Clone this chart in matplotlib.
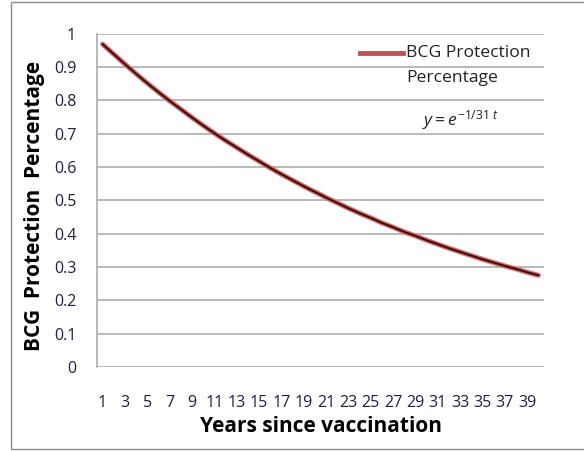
import matplotlib
matplotlib.use("Agg")
import matplotlib.pyplot as plt
from matplotlib.lines import Line2D
from matplotlib.patches import Rectangle

plt.rcParams['font.family'] = ['Open Sans', 'DejaVu Sans']
plt.rcParams['mathtext.fontset'] = 'custom'
plt.rcParams['mathtext.rm'] = 'Open Sans'
plt.rcParams['mathtext.it'] = 'Open Sans:italic'

# Data
years = list(range(1, 41))
protection = [0.968, 0.938, 0.908, 0.879, 0.851, 0.824, 0.798, 0.773, 0.748, 0.724,
              0.701, 0.679, 0.658, 0.637, 0.617, 0.597, 0.578, 0.560, 0.542, 0.525,
              0.508, 0.492, 0.476, 0.461, 0.447, 0.432, 0.419, 0.405, 0.393, 0.380,
              0.368, 0.356, 0.345, 0.334, 0.323, 0.313, 0.303, 0.294, 0.284, 0.275]
xtick_labels = [str(y) for y in years[::2]]
yticks = [0, 0.1, 0.2, 0.3, 0.4, 0.5, 0.6, 0.7, 0.8, 0.9, 1]
ytick_labels = ['0', '0.1', '0.2', '0.3', '0.4', '0.5', '0.6', '0.7', '0.8', '0.9', '1']

W, H = 584, 451
fig = plt.figure(figsize=(W / 100, H / 100), dpi=100)
fig.patch.set_facecolor('white')

# outer chart frame
fig.patches.append(Rectangle((10.5 / W, 1 - 449 / H), (W + 5) / W, (447 / H),
                             transform=fig.transFigure, fill=False,
                             edgecolor='#8c8c8c', linewidth=1.0))

ax = fig.add_axes([97 / W, 1 - 367 / H, 447 / W, 333.5 / H])
ax.set_xlim(0.5, 40.5)
ax.set_ylim(0, 1)

for v in yticks:
    ax.axhline(v, color='#a6a6a6', linewidth=1.1, zorder=1)

ax.plot(years, protection, color='#d46a67', linewidth=3.6, solid_capstyle='round', zorder=3)
ax.plot(years, protection, color='#3a0f0f', linewidth=1.5, solid_capstyle='round', zorder=4)

for s in ['top', 'right', 'bottom']:
    ax.spines[s].set_visible(False)
ax.spines['left'].set_color('#a6a6a6')
ax.spines['left'].set_linewidth(1.1)

ax.set_xticks(years[::2])
ax.set_xticklabels(xtick_labels, fontsize=11.5, color='#1f1f3a')
ax.set_yticks(yticks)
ax.set_yticklabels(ytick_labels, fontsize=11.5, color='#1f1f3a')
ax.tick_params(axis='x', length=0, pad=20)
ax.tick_params(axis='y', length=0, pad=15)

fig.text(35 / W, 1 - 206 / H, 'BCG  Protection  Percentage', rotation=90,
         ha='center', va='center', fontsize=15, fontweight='bold', color='black')
fig.text(321 / W, 1 - 427 / H, 'Years since vaccination',
         ha='center', va='center', fontsize=15, fontweight='bold', color='black')

# legend
ax.add_line(Line2D([0.588, 0.685], [0.942, 0.942], transform=ax.transAxes,
                   color='#c0504d', linewidth=3.5, zorder=5))
ax.text(0.691, 0.941, 'BCG Protection', transform=ax.transAxes, ha='left', va='center',
        fontsize=12.6, color='#222222')
ax.text(0.691, 0.867, 'Percentage', transform=ax.transAxes, ha='left', va='center',
        fontsize=12.6, color='#222222')
ax.text(0.727, 0.741, r'$y = e^{-1/31\ t}$', transform=ax.transAxes, ha='left',
        va='center', fontsize=12.5, color='#222222')

fig.savefig('out.png', dpi=100, facecolor='white')
